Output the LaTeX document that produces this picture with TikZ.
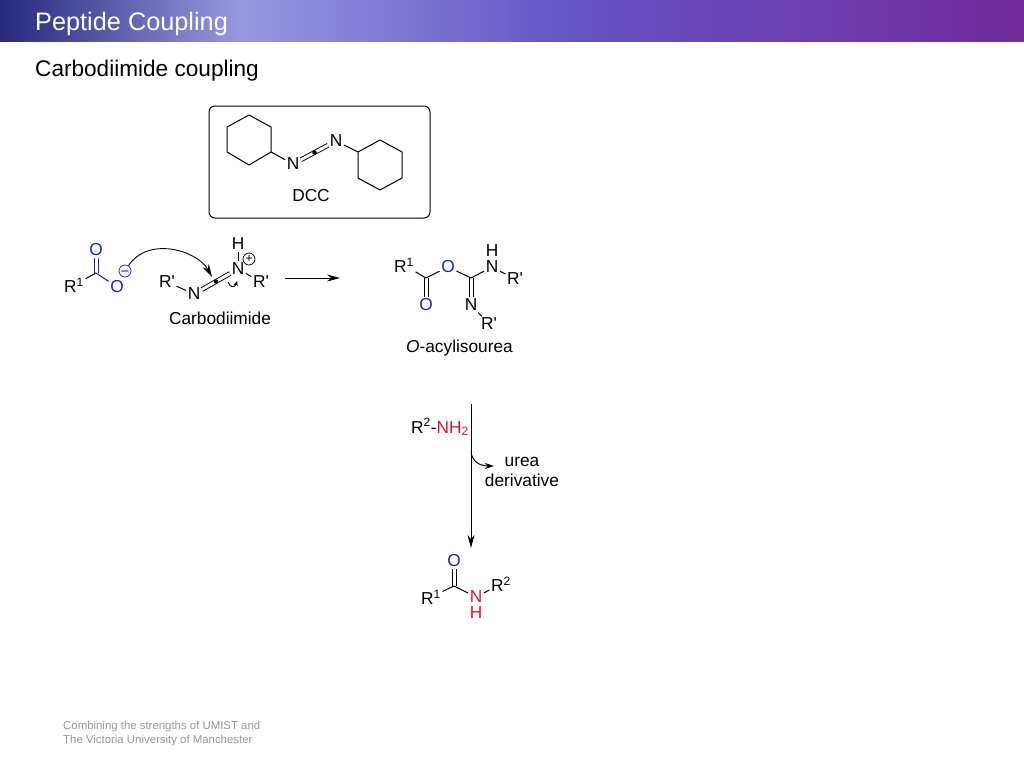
\documentclass[tikz,border=0pt]{standalone}
\usepackage{fontspec}
\setmainfont{Liberation Sans}[Ligatures=TeXOff]
\usetikzlibrary{arrows.meta, positioning}
\definecolor{oxblue}{RGB}{32,32,192}
\definecolor{nred}{RGB}{226,20,40}
\definecolor{footgray}{RGB}{150,150,155}
\begin{document}
\begin{tikzpicture}[x=1pt, y=-1pt, >={Stealth[length=13pt,width=7pt]}, line join=round,
	bond/.style={line width=1pt},
	dbond/.style={line width=0.9pt, double, double distance=3pt},
	dleft/.style={line width=0.9pt, transform canvas={xshift=-2pt}},
	dright/.style={line width=0.9pt, transform canvas={xshift=2pt}},
	atom/.style={inner sep=1.5pt, font=\fontsize{17.3}{17}\selectfont},
	label/.style={inner sep=0pt, font=\fontsize{17.3}{20}\selectfont},
	heading/.style={inner sep=0pt, anchor=base west},
	chargeplus/.style={circle, draw, line width=0.7pt, inner sep=0pt, minimum size=12pt, font=\fontsize{12}{12}\selectfont},
	chargeminus/.style={chargeplus, draw=oxblue, text=oxblue, font=\fontsize{15}{15}\selectfont},
	cdot/.style={circle, fill, inner sep=0pt, minimum size=4.5pt},
	arrowline/.style={->, line width=1pt}]

		\useasboundingbox (0,0) rectangle (1024,768);
		\fill[left color={rgb,255:red,40;green,40;blue,124}, right color={rgb,255:red,152;green,152;blue,224}] (0,0) rectangle (240,42);
		\fill[left color={rgb,255:red,152;green,152;blue,224}, right color={rgb,255:red,101;green,85;blue,197}] (240,0) rectangle (560,42);
		\fill[left color={rgb,255:red,101;green,85;blue,197}, right color={rgb,255:red,112;green,42;blue,154}] (560,0) rectangle (1024,42);

		\node[heading, text=white, font=\fontsize{25.3}{30}\selectfont] (title) at (35,31) {Peptide Coupling};
		\node[heading, font=\fontsize{22.6}{26}\selectfont] (subtitle) at (35,76) {Carbodiimide coupling};
		\node[heading, align=left, text=footgray, font=\fontsize{11.4}{14}\selectfont] (footer) at (63,743) {Combining the strengths of UMIST and\\The Victoria University of Manchester};

		\draw[line width=1pt, rounded corners=6pt] (209,106) rectangle (430,218);

		\coordinate (l1) at (249,115);
		\coordinate (l2) at (271,127);
		\coordinate (l3) at (271,152);
		\coordinate (l4) at (249,165);
		\coordinate (l5) at (227,152);
		\coordinate (l6) at (227,127);
		\coordinate (r1) at (358,152);
		\coordinate (r2) at (380,140);
		\coordinate (r3) at (402,152);
		\coordinate (r4) at (402,178);
		\coordinate (r5) at (380,190);
		\coordinate (r6) at (358,178);
		\node[atom] (dccn1) at (293,164) {N};
		\node[atom] (dccn2) at (336,141) {N};
		\node[label] (dcc) at (311,196) {DCC};
		\draw[bond] (l1) -- (l2) -- (l3) -- (l4) -- (l5) -- (l6) -- cycle;
		\draw[bond] (r1) -- (r2) -- (r3) -- (r4) -- (r5) -- (r6) -- cycle;
		\path
		(l3) edge[bond] (dccn1)
		(r1) edge[bond] (dccn2)
		(dccn1) edge[dbond] (dccn2);
		\node[cdot] (dccc) at (314.5,152.5) {};

		\node[atom] (acidr) at (74,285) {R\textsuperscript{1}};
		\coordinate (acidc) at (96,273);
		\node[atom, text=oxblue] (acido1) at (96,250) {O};
		\node[atom, text=oxblue] (acido2) at (117,287) {O};
		\node[chargeminus] (acidneg) at (125,271) {\raisebox{-5pt}[0pt][0pt]{−}};
		\path
		(acidc) edge[dleft, oxblue] (acido1)
				edge[dright, oxblue] (acido1)
		(acidr) edge[bond] (acidc)
		(acidc) edge[bond, oxblue] (acido2);

		\node[atom] (carbr1) at (167,282) {R'};
		\node[atom] (carbn1) at (194,294) {N};
		\node[atom] (carbn2) at (238,269) {N};
		\node[atom] (carbh) at (238,244) {H};
		\node[chargeplus] (carbplus) at (249,259) {+};
		\node[atom] (carbr2) at (261,282) {R'};
		\node[label] (carbname) at (220,318) {Carbodiimide};
		\coordinate (pushtip) at (212,277);
		\coordinate (flipstart) at (228,282);
		\coordinate (fliptip) at (237,281);
		\path
		(carbr1) edge[bond] (carbn1)
		(carbn2) edge[bond] (carbh)
				edge[bond] (carbr2)
		(carbn1) edge[dbond] (carbn2);
		\node[cdot] (carbc) at (216,281.5) {};
		\draw[->, line width=0.9pt] (acidneg) .. controls (148,236) and (197,250) .. (pushtip);
		\draw[-{Stealth[length=5pt,width=4.5pt]}, line width=0.9pt] (flipstart) .. controls (230,288) and (235,288) .. (fliptip);

		\coordinate (step1a) at (285,278);
		\coordinate (step1b) at (340,278);
		\draw[arrowline] (step1a) -- (step1b);

		\node[atom] (isor) at (404,265) {R\textsuperscript{1}};
		\coordinate (isoc1) at (426,278);
		\node[atom, text=oxblue] (isoo1) at (426,305) {O};
		\node[atom, text=oxblue] (isoo2) at (448,267) {O};
		\coordinate (isoc2) at (471,278);
		\node[atom] (ison1) at (492,267) {N};
		\node[atom] (isoh) at (492,251) {H};
		\node[atom] (isor1) at (515,279) {R'};
		\node[atom] (ison2) at (471,305) {N};
		\node[atom] (isor2) at (489,324) {R'};
		\node[label] (isoname) at (459.5,348.5) {\textit{O}-acylisourea};
		\path
		(isoc1) edge[dleft] (isoo1)
				edge[dright] (isoo1)
		(isoc2) edge[dleft] (ison2)
				edge[dright] (ison2)
		(isor) edge[bond] (isoc1)
		(isoc1) edge[bond] (isoo2)
		(isoo2) edge[bond] (isoc2)
		(isoc2) edge[bond] (ison1)
		(ison1) edge[bond] (isor1)
		(ison2) edge[bond] (isor2);

		\coordinate (step2a) at (471,404);
		\coordinate (step2b) at (471,548);
		\coordinate (branch) at (471,452);
		\coordinate (branchtip) at (494,466);
		\node[label] (amine) at (440,427) {R\textsuperscript{2}-\textcolor{nred}{NH\textsubscript{2}}};
		\node[label, align=center] (urea) at (522,472) {urea\\derivative};
		\draw[arrowline] (step2a) -- (step2b);
		\draw[arrowline, -{Stealth[length=9pt,width=6pt]}] (branch) .. controls (472,460) and (478,466) .. (branchtip);

		\node[atom, text=oxblue] (amido) at (454,561) {O};
		\coordinate (amidc) at (454,586);
		\node[atom] (amidr1) at (431,597) {R\textsuperscript{1}};
		\node[atom, text=nred] (amidn) at (476,597) {N};
		\node[atom, text=nred] (amidh) at (476,613) {H};
		\node[atom] (amidr2) at (501,584) {R\textsuperscript{2}};
		\path
		(amidc) edge[dleft] (amido)
				edge[dright] (amido)
		(amidr1) edge[bond] (amidc)
		(amidc) edge[bond] (amidn)
		(amidn) edge[bond] (amidr2);

		\end{tikzpicture}
\end{document}
